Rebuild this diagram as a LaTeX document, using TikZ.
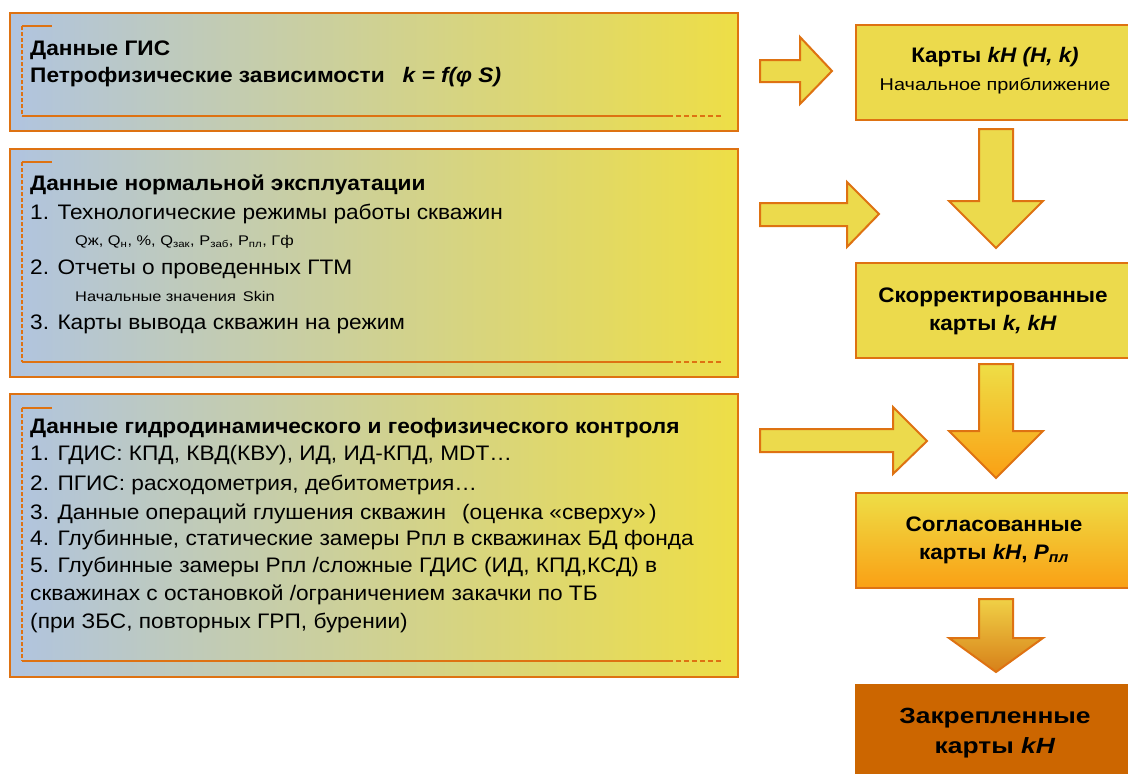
\documentclass[tikz,border=0pt]{standalone}
\usepackage{fontspec}
\setmainfont{Liberation Sans}
\newfontfamily\nf[FakeStretch=1.08]{Liberation Sans}
\newfontfamily\smallf[FakeStretch=1.17]{Liberation Sans}
\newfontfamily\rf[FakeStretch=1.07]{Liberation Sans}
\newfontfamily\rbf[FakeStretch=1.2]{Liberation Sans}
\newfontfamily\rsf[FakeStretch=1.17]{Liberation Sans}
\definecolor{bord}{RGB}{222,114,18}
\definecolor{yel}{RGB}{236,218,76}
\definecolor{blu}{RGB}{176,196,224}
\definecolor{yel2}{RGB}{238,222,70}
\definecolor{org}{RGB}{250,160,20}
\definecolor{brn}{RGB}{204,102,0}
\newcommand\boxdeco[2]{%
  \draw[bord, line width=1.2pt] (22,#1) -- (52,#1);
  \draw[bord, line width=1.5pt, dash pattern=on 4pt off 2pt] (22,#1) -- (22,#2);
  \draw[bord, line width=1.2pt] (22,#2) -- (668,#2);
  \draw[bord, line width=2pt, dash pattern=on 5pt off 3pt] (668,#2) -- (722,#2);
}
\tikzset{
  leftbox/.style={draw=bord, line width=2.2pt, left color=blu, right color=yel2, anchor=north west, inner sep=0pt, minimum width=728pt},
  rightbox/.style={draw=bord, line width=2pt, fill=yel, anchor=north west, inner sep=0pt, minimum width=280pt, minimum height=95pt},
  blockarrow/.style={draw=bord, line width=2pt, line join=miter, fill=yel},
  lt/.style={anchor=base west, inner sep=0pt, font=\nf\fontsize{21}{24}\selectfont},
  ltb/.style={lt, font=\nf\bfseries\fontsize{21}{24}\selectfont},
  lts/.style={anchor=base west, inner sep=0pt, font=\smallf\fontsize{14}{16}\selectfont},
  rt/.style={anchor=base, inner sep=0pt, font=\rf\bfseries\fontsize{21}{22}\selectfont},
  rtb/.style={anchor=base, inner sep=0pt, font=\rbf\bfseries\fontsize{22}{24}\selectfont},
}
\begin{document}
\begin{tikzpicture}[x=1pt,y=-1pt]
\useasboundingbox (0,0) rectangle (1128,774);
\clip (0,0) rectangle (1128,774);
% left boxes
\node[leftbox, minimum height=118pt] (g1) at (9,12) {};
\node[leftbox, minimum height=228pt] (g2) at (9,148) {};
\node[leftbox, minimum height=283pt] (g3) at (9,393) {};
\boxdeco{26}{116}
\boxdeco{162}{362}
\boxdeco{408}{661}
% box 1 text
\node[ltb] (t11) at (30,55) {Данные ГИС};
\node[ltb] (t12) at (30,82) {Петрофизические зависимости\hspace{18pt}\textit{k = f(φ S)}};
% box 2 text
\node[ltb] (t21) at (30,190) {Данные нормальной эксплуатации};
\node[lt] (t22) at (30,219) {1. Технологические режимы работы скважин};
\node[lts] (t23) at (75,245) {Qж, Q\textsubscript{н}, \%, Q\textsubscript{зак}, P\textsubscript{заб}, P\textsubscript{пл}, Гф};
\node[lt] (t24) at (30,274) {2. Отчеты о проведенных ГТМ};
\node[lts] (t25) at (75,301) {Начальные значения\, Skin};
\node[lt] (t26) at (30,329) {3. Карты вывода скважин на режим};
% box 3 text
\node[ltb] (t31) at (30,433) {Данные гидродинамического и геофизического контроля};
\node[lt] (t32) at (30,460) {1. ГДИС: КПД, КВД(КВУ), ИД, ИД-КПД, MDT\dots};
\node[lt] (t33) at (30,490) {2. ПГИС: расходометрия, дебитометрия\dots};
\node[lt] (t34) at (30,519) {3. Данные операций глушения скважин\hspace{16pt}(оценка «сверху»\,)};
\node[lt] (t35) at (30,545) {4. Глубинные, статические замеры Рпл в скважинах БД фонда};
\node[lt] (t36) at (30,572) {5. Глубинные замеры Рпл /сложные ГДИС (ИД, КПД,КСД) в};
\node[lt] (t37) at (30,600) {скважинах с остановкой /ограничением закачки по ТБ};
\node[lt] (t38) at (30,628) {(при ЗБС, повторных ГРП, бурении)};
% right boxes
\node[rightbox] (r1) at (855,24) {};
\node[rightbox] (r2) at (855,262) {};
\node[rightbox, fill=none, top color=yel2, bottom color=org] (r3) at (855,492) {};
\node[rightbox, fill=brn, draw=brn] (r4) at (855,684) {};
\node[rt] (s11) at (995,62) {Карты \textit{kH (H, k)}};
\node[anchor=base, inner sep=0pt, font=\rsf\fontsize{17}{18}\selectfont] (s12) at (995,90) {Начальное приближение};
\node[rt] (s21) at (993,302) {Скорректированные};
\node[rt] (s22) at (993,330) {карты \textit{k, kH}};
\node[rt] (s31) at (994,531) {Согласованные};
\node[rt] (s32) at (994,559) {карты \textit{kH}, \textit{P}\textsubscript{\textit{пл}}};
\node[rtb] (s41) at (995,723) {Закрепленные};
\node[rtb] (s42) at (995,753) {карты \textit{kH}};
% block arrows
\path[blockarrow] (760,60) -- (800,60) -- (800,37) -- (832,71) -- (800,104) -- (800,82) -- (760,82) -- cycle;
\path[blockarrow] (760,203) -- (847,203) -- (847,182) -- (879,214) -- (847,247) -- (847,226) -- (760,226) -- cycle;
\path[blockarrow] (760,429) -- (893,429) -- (893,407) -- (927,441) -- (893,474) -- (893,452) -- (760,452) -- cycle;
\path[blockarrow] (979,129) -- (1013,129) -- (1013,201) -- (1043,201) -- (996,248) -- (949,201) -- (979,201) -- cycle;
\path[blockarrow, top color=yel2, bottom color=org] (979,364) -- (1013,364) -- (1013,431) -- (1043,431) -- (996,478) -- (949,431) -- (979,431) -- cycle;
\path[blockarrow, top color={rgb,255:red,240;green,208;blue,70}, bottom color={rgb,255:red,215;green,128;blue,25}] (979,599) -- (1013,599) -- (1013,638) -- (1043,638) -- (996,672) -- (949,638) -- (979,638) -- cycle;
\end{tikzpicture}
\end{document}
